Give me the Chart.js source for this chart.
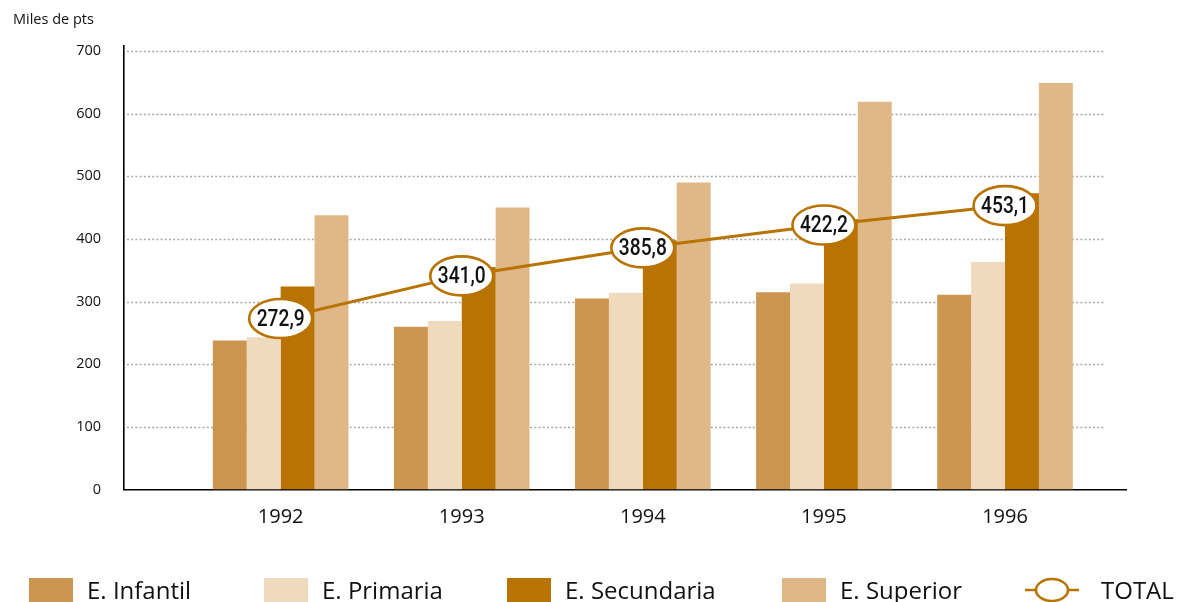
<!DOCTYPE html>
<html>
<head>
<meta charset="utf-8">
<script src="https://cdn.jsdelivr.net/npm/chart.js@4/dist/chart.umd.min.js"></script>
<style>
    body { margin: 0; background: #fff; }
    #wrap { position: relative; width: 1178px; height: 602px; overflow: hidden; font-family: "Open Sans", sans-serif; }
    #chart { position: absolute; left: 0; top: 0; }
    .unit { position: absolute; left: 13px; top: 9px; font-size: 14.5px; color: #111; }
    .leg { position: absolute; top: 577px; height: 25px; display: flex; align-items: center; font-size: 24px; color: #111; white-space: nowrap; }
    .leg .box { width: 44px; height: 24px; margin-right: 14px; }
</style>
</head>
<body>
<div id="wrap">
    <canvas id="chart" width="1178" height="602"></canvas>
    <div class="unit">Miles de pts</div>
    <div class="leg" style="left:29px"><span class="box" style="background:#CC9650"></span>E. Infantil</div>
    <div class="leg" style="left:264px"><span class="box" style="background:#F0DABE"></span>E. Primaria</div>
    <div class="leg" style="left:507px"><span class="box" style="background:#B87300"></span>E. Secundaria</div>
    <div class="leg" style="left:782px"><span class="box" style="background:#E0B888"></span>E. Superior</div>
    <div class="leg" style="left:1025px">
        <svg width="54" height="26" style="margin-right:22px">
            <line x1="0" y1="13" x2="54" y2="13" stroke="#B87300" stroke-width="2.5"/>
            <ellipse cx="27" cy="13" rx="16" ry="11" fill="#fff" stroke="#B87300" stroke-width="2.5"/>
        </svg>TOTAL</div>
</div>
<script>
// Data
const years = [1992, 1993, 1994, 1995, 1996];
const infantil = [238, 260, 305, 315, 311];
const primaria = [243, 269, 314, 329, 363];
const secundaria = [324, 355, 398, 432, 473];
const superior = [438, 450, 490, 619, 649];
const total = [272.9, 341.0, 385.8, 422.2, 453.1];
const yTicks = [0, 100, 200, 300, 400, 500, 600, 700];

const BROWN = '#B87300';

function pts(values) {
    return years.map((y, i) => ({ x: y, y: values[i] }));
}

function barSet(label, values, color) {
    return {
        type: 'bar',
        label: label,
        data: pts(values),
        backgroundColor: color,
        borderWidth: 0,
        categoryPercentage: 0.749,
        barPercentage: 1,
        order: 1
    };
}

// dotted horizontal grid, stops a bit short of the axis end like the original
const dottedGrid = {
    id: 'dottedGrid',
    beforeDatasetsDraw(chart) {
        const y = chart.scales.y;
        const area = chart.chartArea;
        const ctx = chart.ctx;
        ctx.save();
        ctx.strokeStyle = '#A8A8A8';
        ctx.lineWidth = 1.5;
        ctx.setLineDash([2, 2.2]);
        yTicks.forEach(v => {
            if (v === 0) return;
            const py = Math.round(y.getPixelForValue(v)) + 0.5;
            ctx.beginPath();
            ctx.moveTo(area.left + 3, py);
            ctx.lineTo(area.right - 21, py);
            ctx.stroke();
        });
        ctx.restore();
    }
};

// Oval value labels on the TOTAL line
const ovalLabels = {
    id: 'ovalLabels',
    afterDatasetsDraw(chart) {
        const idx = chart.data.datasets.findIndex(d => d.type === 'line');
        const meta = chart.getDatasetMeta(idx);
        const ctx = chart.ctx;
        meta.data.forEach((pt, i) => {
            ctx.save();
            ctx.beginPath();
            ctx.ellipse(pt.x, pt.y, 31.5, 19.5, 0, 0, Math.PI * 2);
            ctx.fillStyle = '#fff';
            ctx.fill();
            ctx.lineWidth = 2.6;
            ctx.strokeStyle = BROWN;
            ctx.stroke();
            ctx.translate(pt.x, pt.y + 1);
            ctx.scale(0.8, 1);
            ctx.fillStyle = '#111';
            ctx.font = '500 24px Roboto';
            ctx.textAlign = 'center';
            ctx.textBaseline = 'middle';
            ctx.fillText(total[i].toFixed(1).replace('.', ','), 0, 0);
            ctx.restore();
        });
    }
};

const ctx = document.getElementById('chart').getContext('2d');
new Chart(ctx, {
    data: {
        datasets: [
            barSet('E. Infantil', infantil, '#CC9650'),
            barSet('E. Primaria', primaria, '#F0DABE'),
            barSet('E. Secundaria', secundaria, BROWN),
            barSet('E. Superior', superior, '#E0B888'),
            {
                type: 'line',
                label: 'TOTAL',
                data: pts(total),
                borderColor: BROWN,
                borderWidth: 3,
                pointRadius: 0,
                tension: 0,
                order: 0
            }
        ]
    },
    options: {
        responsive: false,
        animation: false,
        layout: { padding: { top: 46, right: 52, bottom: 0, left: 0 } },
        plugins: {
            legend: { display: false },
            tooltip: { enabled: false }
        },
        scales: {
            x: {
                type: 'linear',
                offset: false,
                min: 1991.135,
                max: 1996.668,
                afterFit: (scale) => { scale.height = 112.5; },
                afterBuildTicks: (scale) => {
                    scale.ticks = years.map(v => ({ value: v }));
                },
                ticks: {
                    includeBounds: false,
                    stepSize: 1,
                    padding: 16,
                    color: '#111',
                    font: { family: 'Open Sans', size: 20 },
                    callback: (v) => String(v)
                },
                grid: { display: false, drawTicks: false },
                border: { display: true, color: '#000', width: 1.6 }
            },
            y: {
                min: 0,
                max: 708,
                afterFit: (scale) => { scale.width = 124; },
                afterBuildTicks: (scale) => {
                    scale.ticks = yTicks.map(v => ({ value: v }));
                },
                ticks: {
                    includeBounds: false,
                    stepSize: 100,
                    padding: 23,
                    color: '#111',
                    font: { family: 'Open Sans', size: 14.5 },
                    callback: (v) => String(v)
                },
                grid: { display: false, drawTicks: false },
                border: { display: true, color: '#000', width: 1.6 }
            }
        }
    },
    plugins: [dottedGrid, ovalLabels]
});
</script>
</body>
</html>
